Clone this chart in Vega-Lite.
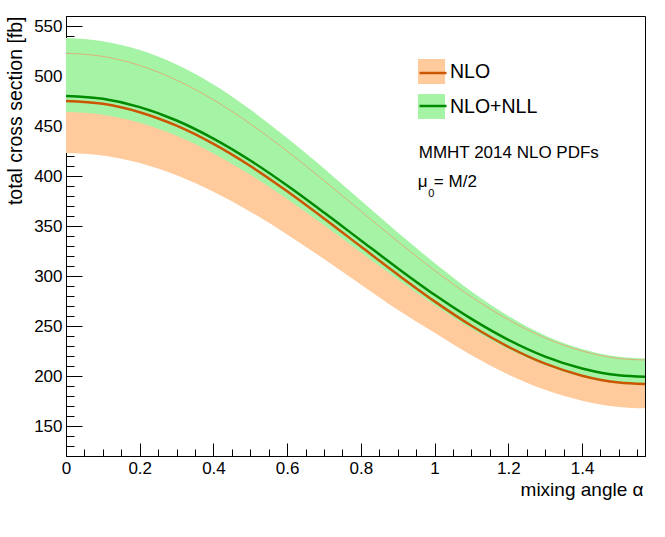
{
  "$schema": "https://vega.github.io/schema/vega-lite/v6.json",
  "width": 579,
  "height": 440,
  "autosize": "none",
  "padding": {"left": 66, "top": 16, "right": 20, "bottom": 81},
  "background": "white",
  "config": {
    "view": {"stroke": "black", "strokeWidth": 1},
    "font": "Liberation Sans",
    "axis": {"grid": false, "zindex": 1, "tickCount": 200, "domainColor": "black", "domainWidth": 1, "tickColor": "black", "tickWidth": 1, "labelColor": "black", "titleColor": "black", "labelFont": "Liberation Sans", "titleFont": "Liberation Sans", "titleFontWeight": "normal", "labelOverlap": false, "labelFlush": false, "labelBound": false},
    "legend": {"labelFont": "Liberation Sans", "labelColor": "black"},
    "text": {"font": "Liberation Sans"}
  },
  "datasets": {
    "curves": [
      {"alpha": 0, "series": "NLO", "band": "NLO", "central": 475, "lo": 423, "hi": 522.7},
      {"alpha": 0.1, "series": "NLO", "band": "NLO", "central": 472.2, "lo": 420.5, "hi": 519.6},
      {"alpha": 0.2, "series": "NLO", "band": "NLO", "central": 463.8, "lo": 412.9, "hi": 510.6},
      {"alpha": 0.3, "series": "NLO", "band": "NLO", "central": 450.3, "lo": 400.7, "hi": 495.9},
      {"alpha": 0.4, "series": "NLO", "band": "NLO", "central": 432.1, "lo": 384.3, "hi": 476.2},
      {"alpha": 0.5, "series": "NLO", "band": "NLO", "central": 410.0, "lo": 364.3, "hi": 452.2},
      {"alpha": 0.6, "series": "NLO", "band": "NLO", "central": 384.8, "lo": 341.6, "hi": 424.9},
      {"alpha": 0.7, "series": "NLO", "band": "NLO", "central": 357.6, "lo": 317.0, "hi": 395.4},
      {"alpha": 0.8, "series": "NLO", "band": "NLO", "central": 329.4, "lo": 291.6, "hi": 364.9},
      {"alpha": 0.9, "series": "NLO", "band": "NLO", "central": 301.4, "lo": 266.3, "hi": 334.5},
      {"alpha": 1.0, "series": "NLO", "band": "NLO", "central": 274.6, "lo": 243.2, "hi": 305.5},
      {"alpha": 1.1, "series": "NLO", "band": "NLO", "central": 250.2, "lo": 220.8, "hi": 279.1},
      {"alpha": 1.2, "series": "NLO", "band": "NLO", "central": 229.2, "lo": 201.6, "hi": 256.3},
      {"alpha": 1.3, "series": "NLO", "band": "NLO", "central": 212.3, "lo": 186.2, "hi": 238.0},
      {"alpha": 1.4, "series": "NLO", "band": "NLO", "central": 200.3, "lo": 175.3, "hi": 225.0},
      {"alpha": 1.5, "series": "NLO", "band": "NLO", "central": 193.4, "lo": 169.0, "hi": 217.5},
      {"alpha": 1.5708, "series": "NLO", "band": "NLO", "central": 192, "lo": 167.7, "hi": 216},
      {"alpha": 0, "series": "NLO+NLL", "band": "NLO+NLL", "central": 480, "lo": 464, "hi": 538},
      {"alpha": 0.1, "series": "NLO+NLL", "band": "NLO+NLL", "central": 477.2, "lo": 461.3, "hi": 534.8},
      {"alpha": 0.2, "series": "NLO+NLL", "band": "NLO+NLL", "central": 468.9, "lo": 453.2, "hi": 526},
      {"alpha": 0.3, "series": "NLO+NLL", "band": "NLO+NLL", "central": 455.5, "lo": 440.2, "hi": 511.5},
      {"alpha": 0.4, "series": "NLO+NLL", "band": "NLO+NLL", "central": 437.4, "lo": 422.6, "hi": 491.5},
      {"alpha": 0.5, "series": "NLO+NLL", "band": "NLO+NLL", "central": 415.5, "lo": 401.3, "hi": 466.5},
      {"alpha": 0.6, "series": "NLO+NLL", "band": "NLO+NLL", "central": 390.5, "lo": 377.0, "hi": 438},
      {"alpha": 0.7, "series": "NLO+NLL", "band": "NLO+NLL", "central": 363.5, "lo": 350.7, "hi": 407.5},
      {"alpha": 0.8, "series": "NLO+NLL", "band": "NLO+NLL", "central": 335.6, "lo": 323.5, "hi": 375.5},
      {"alpha": 0.9, "series": "NLO+NLL", "band": "NLO+NLL", "central": 307.8, "lo": 296.5, "hi": 343.5},
      {"alpha": 1.0, "series": "NLO+NLL", "band": "NLO+NLL", "central": 281.2, "lo": 270.7, "hi": 313},
      {"alpha": 1.1, "series": "NLO+NLL", "band": "NLO+NLL", "central": 257.1, "lo": 247.2, "hi": 284.5},
      {"alpha": 1.2, "series": "NLO+NLL", "band": "NLO+NLL", "central": 236.2, "lo": 226.9, "hi": 260},
      {"alpha": 1.3, "series": "NLO+NLL", "band": "NLO+NLL", "central": 219.4, "lo": 210.7, "hi": 240.6},
      {"alpha": 1.4, "series": "NLO+NLL", "band": "NLO+NLL", "central": 207.5, "lo": 199.0, "hi": 227.1},
      {"alpha": 1.5, "series": "NLO+NLL", "band": "NLO+NLL", "central": 200.7, "lo": 192.4, "hi": 219.3},
      {"alpha": 1.5708, "series": "NLO+NLL", "band": "NLO+NLL", "central": 199.3, "lo": 191, "hi": 217.7}
    ],
    "notes": [{"label": "MMHT 2014 NLO PDFs"}],
    "mu": [{"label": "μ"}],
    "sub": [{"label": "0"}],
    "eq": [{"label": "= M/2"}]
  },
  "data": {"name": "curves"},
  "layer": [
    {
      "transform": [{"filter": "datum.band === 'NLO'"}],
      "mark": {"type": "area", "interpolate": "monotone", "opacity": 1},
      "encoding": {
        "x": {"field": "alpha", "type": "quantitative",
          "scale": {"domain": [0, 1.5708], "nice": false, "zero": false},
          "axis": {"values": [0, 0.05, 0.1, 0.15, 0.2, 0.25, 0.3, 0.35, 0.4, 0.45, 0.5, 0.55, 0.6, 0.65, 0.7, 0.75, 0.8, 0.85, 0.9, 0.95, 1, 1.05, 1.1, 1.15, 1.2, 1.25, 1.3, 1.35, 1.4, 1.45, 1.5, 1.55], "tickCount": 200, "format": "~g", "tickSize": {"condition": {"test": "abs(datum.value*5 - round(datum.value*5)) < 0.001", "value": -13}, "value": -7}, "labelExpr": "abs(datum.value*5 - round(datum.value*5)) < 0.001 ? datum.label : ''", "labelFontSize": 17, "labelPadding": 17, "title": "mixing angle α", "titleFontSize": 19, "titleX": 577, "titleY": 39, "titleAlign": "right", "titleBaseline": "alphabetic", "titleAnchor": "end"}
        },
        "y": {"field": "lo", "type": "quantitative",
          "scale": {"domain": [120, 560], "nice": false, "zero": false},
          "axis": {"values": [120, 130, 140, 150, 160, 170, 180, 190, 200, 210, 220, 230, 240, 250, 260, 270, 280, 290, 300, 310, 320, 330, 340, 350, 360, 370, 380, 390, 400, 410, 420, 430, 440, 450, 460, 470, 480, 490, 500, 510, 520, 530, 540, 550, 560], "tickCount": 200, "format": "d", "tickSize": {"condition": {"test": "datum.value % 50 === 0", "value": -16}, "value": -8}, "labelExpr": "(datum.value % 50 === 0 && datum.value >= 150 && datum.value <= 550) ? datum.label : ''", "labelFontSize": 17, "labelPadding": 20, "title": "total cross section [fb]", "titleFontSize": 19.5, "titleAngle": 270, "titleX": -45, "titleY": 0, "titleAlign": "right", "titleBaseline": "alphabetic", "titleAnchor": "end"}
        },
        "y2": {"field": "hi"},
        "fill": {"field": "band", "type": "nominal",
          "scale": {"range": ["#ffca9c", "#a5f3a5"]},
          "legend": {"orient": "none", "legendX": 352, "legendY": 42, "title": null, "padding": 0, "symbolType": "M-1,-0.926H1V0.926H-1Z", "symbolSize": 729, "symbolStrokeWidth": 0, "symbolOpacity": 1, "labelFontSize": 19.5, "labelOffset": 5, "rowPadding": 8, "zindex": 1}
        }
      }
    },
    {
      "transform": [{"filter": "datum.band === 'NLO+NLL'"}],
      "mark": {"type": "area", "interpolate": "monotone", "opacity": 1},
      "encoding": {
        "x": {"field": "alpha", "type": "quantitative",
          "scale": {"domain": [0, 1.5708], "nice": false, "zero": false},
          "axis": {"values": [0, 0.05, 0.1, 0.15, 0.2, 0.25, 0.3, 0.35, 0.4, 0.45, 0.5, 0.55, 0.6, 0.65, 0.7, 0.75, 0.8, 0.85, 0.9, 0.95, 1, 1.05, 1.1, 1.15, 1.2, 1.25, 1.3, 1.35, 1.4, 1.45, 1.5, 1.55], "tickCount": 200, "format": "~g", "tickSize": {"condition": {"test": "abs(datum.value*5 - round(datum.value*5)) < 0.001", "value": -13}, "value": -7}, "labelExpr": "abs(datum.value*5 - round(datum.value*5)) < 0.001 ? datum.label : ''", "labelFontSize": 17, "labelPadding": 17, "title": "mixing angle α", "titleFontSize": 19, "titleX": 577, "titleY": 39, "titleAlign": "right", "titleBaseline": "alphabetic", "titleAnchor": "end"}
        },
        "y": {"field": "lo", "type": "quantitative",
          "scale": {"domain": [120, 560], "nice": false, "zero": false},
          "axis": {"values": [120, 130, 140, 150, 160, 170, 180, 190, 200, 210, 220, 230, 240, 250, 260, 270, 280, 290, 300, 310, 320, 330, 340, 350, 360, 370, 380, 390, 400, 410, 420, 430, 440, 450, 460, 470, 480, 490, 500, 510, 520, 530, 540, 550, 560], "tickCount": 200, "format": "d", "tickSize": {"condition": {"test": "datum.value % 50 === 0", "value": -16}, "value": -8}, "labelExpr": "(datum.value % 50 === 0 && datum.value >= 150 && datum.value <= 550) ? datum.label : ''", "labelFontSize": 17, "labelPadding": 20, "title": "total cross section [fb]", "titleFontSize": 19.5, "titleAngle": 270, "titleX": -45, "titleY": 0, "titleAlign": "right", "titleBaseline": "alphabetic", "titleAnchor": "end"}
        },
        "y2": {"field": "hi"},
        "fill": {"field": "band", "type": "nominal"}
      }
    },
    {
      "transform": [{"filter": "datum.series === 'NLO'"}],
      "mark": {"type": "line", "interpolate": "monotone", "color": "#e8a070", "strokeWidth": 0.8},
      "encoding": {
        "x": {"field": "alpha", "type": "quantitative",
          "scale": {"domain": [0, 1.5708], "nice": false, "zero": false},
          "axis": {"values": [0, 0.05, 0.1, 0.15, 0.2, 0.25, 0.3, 0.35, 0.4, 0.45, 0.5, 0.55, 0.6, 0.65, 0.7, 0.75, 0.8, 0.85, 0.9, 0.95, 1, 1.05, 1.1, 1.15, 1.2, 1.25, 1.3, 1.35, 1.4, 1.45, 1.5, 1.55], "tickCount": 200, "format": "~g", "tickSize": {"condition": {"test": "abs(datum.value*5 - round(datum.value*5)) < 0.001", "value": -13}, "value": -7}, "labelExpr": "abs(datum.value*5 - round(datum.value*5)) < 0.001 ? datum.label : ''", "labelFontSize": 17, "labelPadding": 17, "title": "mixing angle α", "titleFontSize": 19, "titleX": 577, "titleY": 39, "titleAlign": "right", "titleBaseline": "alphabetic", "titleAnchor": "end"}
        },
        "y": {"field": "hi", "type": "quantitative",
          "scale": {"domain": [120, 560], "nice": false, "zero": false},
          "axis": {"values": [120, 130, 140, 150, 160, 170, 180, 190, 200, 210, 220, 230, 240, 250, 260, 270, 280, 290, 300, 310, 320, 330, 340, 350, 360, 370, 380, 390, 400, 410, 420, 430, 440, 450, 460, 470, 480, 490, 500, 510, 520, 530, 540, 550, 560], "tickCount": 200, "format": "d", "tickSize": {"condition": {"test": "datum.value % 50 === 0", "value": -16}, "value": -8}, "labelExpr": "(datum.value % 50 === 0 && datum.value >= 150 && datum.value <= 550) ? datum.label : ''", "labelFontSize": 17, "labelPadding": 20, "title": "total cross section [fb]", "titleFontSize": 19.5, "titleAngle": 270, "titleX": -45, "titleY": 0, "titleAlign": "right", "titleBaseline": "alphabetic", "titleAnchor": "end"}
        }
      }
    },
    {
      "mark": {"type": "line", "interpolate": "monotone", "strokeWidth": 2.5},
      "encoding": {
        "x": {"field": "alpha", "type": "quantitative",
          "scale": {"domain": [0, 1.5708], "nice": false, "zero": false},
          "axis": {"values": [0, 0.05, 0.1, 0.15, 0.2, 0.25, 0.3, 0.35, 0.4, 0.45, 0.5, 0.55, 0.6, 0.65, 0.7, 0.75, 0.8, 0.85, 0.9, 0.95, 1, 1.05, 1.1, 1.15, 1.2, 1.25, 1.3, 1.35, 1.4, 1.45, 1.5, 1.55], "tickCount": 200, "format": "~g", "tickSize": {"condition": {"test": "abs(datum.value*5 - round(datum.value*5)) < 0.001", "value": -13}, "value": -7}, "labelExpr": "abs(datum.value*5 - round(datum.value*5)) < 0.001 ? datum.label : ''", "labelFontSize": 17, "labelPadding": 17, "title": "mixing angle α", "titleFontSize": 19, "titleX": 577, "titleY": 39, "titleAlign": "right", "titleBaseline": "alphabetic", "titleAnchor": "end"}
        },
        "y": {"field": "central", "type": "quantitative",
          "scale": {"domain": [120, 560], "nice": false, "zero": false},
          "axis": {"values": [120, 130, 140, 150, 160, 170, 180, 190, 200, 210, 220, 230, 240, 250, 260, 270, 280, 290, 300, 310, 320, 330, 340, 350, 360, 370, 380, 390, 400, 410, 420, 430, 440, 450, 460, 470, 480, 490, 500, 510, 520, 530, 540, 550, 560], "tickCount": 200, "format": "d", "tickSize": {"condition": {"test": "datum.value % 50 === 0", "value": -16}, "value": -8}, "labelExpr": "(datum.value % 50 === 0 && datum.value >= 150 && datum.value <= 550) ? datum.label : ''", "labelFontSize": 17, "labelPadding": 20, "title": "total cross section [fb]", "titleFontSize": 19.5, "titleAngle": 270, "titleX": -45, "titleY": 0, "titleAlign": "right", "titleBaseline": "alphabetic", "titleAnchor": "end"}
        },
        "stroke": {"field": "series", "type": "nominal",
          "scale": {"range": ["#cc5500", "#008a00"]},
          "legend": {"orient": "none", "legendX": 352, "legendY": 42, "title": null, "padding": 0, "symbolType": "M-1,0H1", "symbolSize": 729, "symbolStrokeWidth": 2.5, "symbolFillColor": "transparent", "labelFontSize": 19.5, "labelOffset": 5, "rowPadding": 8, "labelExpr": "''", "zindex": 2}
        }
      }
    },
    {
      "data": {"name": "notes"},
      "mark": {"type": "text", "align": "left", "baseline": "alphabetic", "fontSize": 17, "color": "black"},
      "encoding": {"x": {"datum": 0.957, "type": "quantitative"}, "y": {"datum": 418, "type": "quantitative"}, "text": {"field": "label"}}
    },
    {
      "data": {"name": "mu"},
      "mark": {"type": "text", "align": "left", "baseline": "alphabetic", "fontSize": 17, "color": "black"},
      "encoding": {"x": {"datum": 0.9544, "type": "quantitative"}, "y": {"datum": 389, "type": "quantitative"}, "text": {"field": "label"}}
    },
    {
      "data": {"name": "sub"},
      "mark": {"type": "text", "align": "left", "baseline": "alphabetic", "fontSize": 11, "color": "black"},
      "encoding": {"x": {"datum": 0.983, "type": "quantitative"}, "y": {"datum": 379, "type": "quantitative"}, "text": {"field": "label"}}
    },
    {
      "data": {"name": "eq"},
      "mark": {"type": "text", "align": "left", "baseline": "alphabetic", "fontSize": 17, "color": "black"},
      "encoding": {"x": {"datum": 0.998, "type": "quantitative"}, "y": {"datum": 389, "type": "quantitative"}, "text": {"field": "label"}}
    }
  ]
}
